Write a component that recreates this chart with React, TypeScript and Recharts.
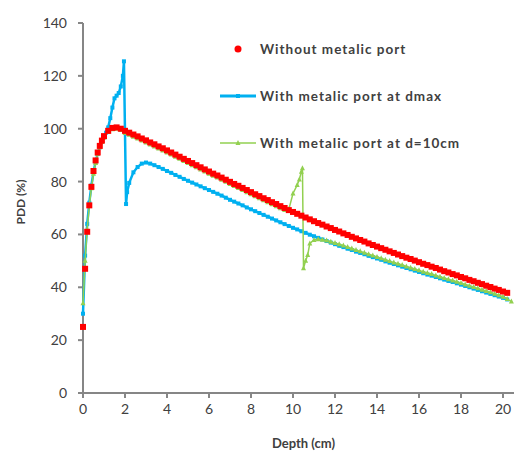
import React from 'react';
import { ScatterChart, Scatter, XAxis, YAxis } from 'recharts';

// PDD curves, depth in cm, dose in %
const redDepth = [
  0, 0.1, 0.2, 0.3, 0.4, 0.5, 0.6, 0.7, 0.8, 0.9, 1.0,
  1.2, 1.4, 1.6, 1.8,
  2.0, 2.2, 2.4, 2.6, 2.8, 3.0, 3.2, 3.4, 3.6, 3.8,
  4.0, 4.2, 4.4, 4.6, 4.8, 5.0, 5.2, 5.4, 5.6, 5.8,
  6.0, 6.2, 6.4, 6.6, 6.8, 7.0, 7.2, 7.4, 7.6, 7.8,
  8.0, 8.2, 8.4, 8.6, 8.8, 9.0, 9.2, 9.4, 9.6, 9.8,
  10.0, 10.2, 10.4, 10.6, 10.8, 11.0, 11.2, 11.4, 11.6, 11.8,
  12.0, 12.2, 12.4, 12.6, 12.8, 13.0, 13.2, 13.4, 13.6, 13.8,
  14.0, 14.2, 14.4, 14.6, 14.8, 15.0, 15.2, 15.4, 15.6, 15.8,
  16.0, 16.2, 16.4, 16.6, 16.8, 17.0, 17.2, 17.4, 17.6, 17.8,
  18.0, 18.2, 18.4, 18.6, 18.8, 19.0, 19.2, 19.4, 19.6, 19.8,
  20.0, 20.2,
];
const redPdd = [
  25, 47, 61, 71, 78, 84, 88, 91, 93.5, 95.5, 97.2,
  99.2, 100.3, 100.5, 100.0,
  99.2, 98.5, 97.8, 97.1, 96.3, 95.6, 94.8, 94.1, 93.3, 92.6,
  91.8, 91.0, 90.2, 89.4, 88.6, 87.8, 87.0, 86.2, 85.4, 84.6,
  83.8, 83.0, 82.3, 81.5, 80.7, 79.9, 79.1, 78.4, 77.6, 76.8,
  76.0, 75.2, 74.5, 73.7, 73.0, 72.2, 71.5, 70.7, 70.0, 69.2,
  68.5, 67.8, 67.1, 66.4, 65.7, 65.0, 64.3, 63.7, 63.0, 62.4,
  61.7, 61.1, 60.4, 59.8, 59.1, 58.5, 57.9, 57.3, 56.6, 56.0,
  55.4, 54.8, 54.2, 53.6, 53.0, 52.4, 51.8, 51.2, 50.7, 50.1,
  49.5, 48.9, 48.4, 47.8, 47.3, 46.7, 46.1, 45.6, 45.0, 44.5,
  43.9, 43.4, 42.8, 42.3, 41.7, 41.2, 40.6, 40.1, 39.5, 39.0,
  38.4, 37.9,
];

const blueDepth = [
  0, 0.1, 0.2, 0.3, 0.4, 0.5, 0.6, 0.7, 0.8, 0.9, 1.0,
  1.1, 1.2, 1.3, 1.4, 1.5, 1.6, 1.7, 1.8, 1.9, 1.95,
  2.05, 2.1, 2.2, 2.4, 2.6, 2.8,
  3.0, 3.2, 3.4, 3.6, 3.8, 4.0, 4.2, 4.4, 4.6, 4.8,
  5.0, 5.2, 5.4, 5.6, 5.8, 6.0, 6.2, 6.4, 6.6, 6.8,
  7.0, 7.2, 7.4, 7.6, 7.8, 8.0, 8.2, 8.4, 8.6, 8.8,
  9.0, 9.2, 9.4, 9.6, 9.8, 10.0, 10.2, 10.4, 10.6, 10.8,
  11.0, 11.2, 11.4, 11.6, 11.8, 12.0, 12.2, 12.4, 12.6, 12.8,
  13.0, 13.2, 13.4, 13.6, 13.8, 14.0, 14.2, 14.4, 14.6, 14.8,
  15.0, 15.2, 15.4, 15.6, 15.8, 16.0, 16.2, 16.4, 16.6, 16.8,
  17.0, 17.2, 17.4, 17.6, 17.8, 18.0, 18.2, 18.4, 18.6, 18.8,
  19.0, 19.2, 19.4, 19.6, 19.8, 20.0, 20.2,
];
const bluePdd = [
  30, 52, 64, 72, 78.5, 83.5, 87.5, 90.5, 93, 95, 96.8,
  98.5, 100.5, 104, 108, 111.5, 112.5, 113.5, 116, 120, 125.5,
  71.5, 76, 79.5, 83.5, 85.5, 86.8,
  87.2, 86.8, 86.2, 85.5, 84.8, 84.0, 83.3, 82.5, 81.8, 81.0,
  80.3, 79.6, 78.9, 78.2, 77.5, 76.8, 76.1, 75.4, 74.7, 73.9,
  73.1, 72.4, 71.7, 71.0, 70.2, 69.5, 68.8, 68.1, 67.4, 66.7,
  66.0, 65.3, 64.6, 63.9, 63.2, 62.5, 61.9, 61.2, 60.6, 59.9,
  59.3, 58.7, 58.1, 57.5, 56.9, 56.3, 55.7, 55.2, 54.6, 54.1,
  53.5, 53.0, 52.5, 51.9, 51.4, 50.9, 50.4, 49.8, 49.3, 48.8,
  48.3, 47.8, 47.3, 46.8, 46.3, 45.8, 45.3, 44.8, 44.4, 43.9,
  43.4, 42.9, 42.4, 42.0, 41.5, 41.0, 40.5, 40.0, 39.5, 39.0,
  38.5, 38.0, 37.5, 37.0, 36.5, 36.0, 35.4,
];

const greenDepth = [
  0, 0.1, 0.2, 0.3, 0.4, 0.5, 0.6, 0.7, 0.8, 0.9, 1.0,
  1.2, 1.4, 1.6, 1.8,
  2.0, 2.2, 2.4, 2.6, 2.8, 3.0, 3.2, 3.4, 3.6, 3.8,
  4.0, 4.2, 4.4, 4.6, 4.8, 5.0, 5.2, 5.4, 5.6, 5.8,
  6.0, 6.2, 6.4, 6.6, 6.8, 7.0, 7.2, 7.4, 7.6, 7.8,
  8.0, 8.2, 8.4, 8.6, 8.8, 9.0, 9.2, 9.4, 9.6, 9.8,
  10.0, 10.2, 10.3, 10.4, 10.45, 10.5, 10.6, 10.7, 10.8,
  11.0, 11.2, 11.4, 11.6, 11.8, 12.0, 12.2, 12.4, 12.6, 12.8,
  13.0, 13.2, 13.4, 13.6, 13.8, 14.0, 14.2, 14.4, 14.6, 14.8,
  15.0, 15.2, 15.4, 15.6, 15.8, 16.0, 16.2, 16.4, 16.6, 16.8,
  17.0, 17.2, 17.4, 17.6, 17.8, 18.0, 18.2, 18.4, 18.6, 18.8,
  19.0, 19.2, 19.4, 19.6, 19.8, 20.0, 20.2, 20.4,
];
const greenPdd = [
  34, 50, 62, 71, 77.5, 83, 87, 90.5, 93, 95, 96.7,
  98.8, 99.8, 100.0, 99.5,
  98.4, 97.7, 97.0, 96.3, 95.5, 94.8, 94.0, 93.3, 92.5, 91.8,
  91.0, 90.2, 89.4, 88.6, 87.8, 87.0, 86.2, 85.4, 84.6, 83.8,
  83.0, 82.2, 81.5, 80.7, 79.9, 79.1, 78.3, 77.6, 76.8, 76.0,
  75.2, 74.4, 73.7, 72.9, 72.2, 71.4, 70.7, 69.9, 69.2, 69.5,
  75.5, 78.7, 80.8, 83.7, 85.0, 47.2, 50.0, 52.2, 56.6,
  57.9, 58.2, 58.0, 57.7, 57.2, 56.8, 56.3, 55.8, 55.2, 54.7,
  54.1, 53.6, 53.1, 52.5, 52.0, 51.5, 51.0, 50.4, 49.9, 49.4,
  48.9, 48.4, 47.9, 47.4, 46.9, 46.4, 45.9, 45.4, 45.0, 44.5,
  44.0, 43.5, 43.0, 42.6, 42.1, 41.6, 41.1, 40.6, 40.1, 39.6,
  39.1, 38.6, 38.1, 37.6, 37.0, 36.4, 35.6, 34.6,
];

const xTicks = [0, 2, 4, 6, 8, 10, 12, 14, 16, 18, 20];
const yTicks = [0, 20, 40, 60, 80, 100, 120, 140];

const legendItems = [
  { name: 'Without metalic port', color: '#ff0000', kind: 'dot' },
  { name: 'With metalic port at dmax', color: '#00b0f0', kind: 'square' },
  { name: 'With metalic port at d=10cm', color: '#92d050', kind: 'triangle' },
];

const FONT = 'Lato, "DejaVu Sans", sans-serif';
const AXIS = '#868686';

const toPoints = (xs: number[], ys: number[]) =>
  xs.map((depth, i) => ({ depth, pdd: ys[i] }));

const redData = toPoints(redDepth, redPdd);
const blueData = toPoints(blueDepth, bluePdd);
const greenData = toPoints(greenDepth, greenPdd);

const RedSquare = (p: any) => (
  <rect x={p.cx - 3} y={p.cy - 3} width={6} height={6} fill="#ff0000" />
);
const BlueSquare = (p: any) => (
  <rect x={p.cx - 2} y={p.cy - 2} width={4} height={4} fill="#00b0f0" />
);
const GreenTriangle = (p: any) => (
  <polygon
    points={`${p.cx},${p.cy - 3} ${p.cx - 2.5},${p.cy + 2} ${p.cx + 2.5},${p.cy + 2}`}
    fill="#92d050"
  />
);

const YLabel = (props: any) => {
  const vb = props.viewBox || { x: 0, y: 15, width: 75, height: 370 };
  const x = vb.x + 12;
  const y = vb.y + vb.height / 2 - 6;
  return (
    <text
      x={x}
      y={y}
      transform={`rotate(-90, ${x}, ${y})`}
      textAnchor="middle"
      dominantBaseline="central"
      fontFamily={FONT}
      fontSize={12}
      fontWeight="bold"
      fill="#404040"
    >
      PDD (%)
    </text>
  );
};

const ChartLegend = () => (
  <div
    style={{
      position: 'absolute',
      left: 212,
      top: 17,
      fontFamily: FONT,
      fontSize: 13.5,
      fontWeight: 'bold',
      color: '#404040',
      letterSpacing: 1,
    }}
  >
    {legendItems.map((item) => (
      <div key={item.name} style={{ display: 'flex', alignItems: 'center', height: 47 }}>
        <svg width={36} height={10} style={{ marginRight: 4 }}>
          {item.kind === 'dot' && <circle cx={18} cy={5} r={3.5} fill={item.color} />}
          {item.kind === 'square' && (
            <>
              <line x1={0} y1={5} x2={36} y2={5} stroke={item.color} strokeWidth={3} />
              <rect x={16} y={3} width={4} height={4} fill={item.color} />
            </>
          )}
          {item.kind === 'triangle' && (
            <>
              <line x1={0} y1={5} x2={36} y2={5} stroke={item.color} strokeWidth={1.5} />
              <polygon points="18,2 15.5,7 20.5,7" fill={item.color} />
            </>
          )}
        </svg>
        <span>{item.name}</span>
      </div>
    ))}
  </div>
);

export default function App() {
  return (
    <div style={{ position: 'relative', width: 514, height: 445, overflow: 'hidden' }}>
      <ScatterChart width={516} height={445} margin={{ top: 15, right: 0, bottom: 0, left: 0 }}>
        <XAxis
          type="number"
          dataKey="depth"
          domain={[0, 21]}
          ticks={xTicks}
          height={60}
          tickSize={5}
          tickMargin={6}
          axisLine={{ stroke: AXIS, strokeWidth: 2 }}
          tickLine={{ stroke: AXIS, strokeWidth: 2 }}
          tick={{ fill: '#404040', fontSize: 14, fontFamily: FONT }}
          label={{
            value: 'Depth (cm)',
            position: 'insideBottom',
            offset: 5,
            style: { fontFamily: FONT, fontSize: 13, fontWeight: 'bold', fill: '#404040' },
          }}
        />
        <YAxis
          type="number"
          dataKey="pdd"
          domain={[0, 140]}
          ticks={yTicks}
          width={75}
          tickSize={5}
          tickMargin={11}
          axisLine={{ stroke: AXIS, strokeWidth: 2 }}
          tickLine={{ stroke: AXIS, strokeWidth: 2 }}
          tick={{ fill: '#404040', fontSize: 14, fontFamily: FONT }}
          label={<YLabel />}
        />
        <Scatter
          name="With metalic port at dmax"
          data={blueData}
          fill="#00b0f0"
          line={{ stroke: '#00b0f0', strokeWidth: 2.5 }}
          shape={BlueSquare}
          isAnimationActive={false}
        />
        <Scatter
          name="With metalic port at d=10cm"
          data={greenData}
          fill="#92d050"
          line={{ stroke: '#92d050', strokeWidth: 1.5 }}
          shape={GreenTriangle}
          isAnimationActive={false}
        />
        <Scatter
          name="Without metalic port"
          data={redData}
          fill="#ff0000"
          shape={RedSquare}
          isAnimationActive={false}
        />
      </ScatterChart>
      <ChartLegend />
    </div>
  );
}
